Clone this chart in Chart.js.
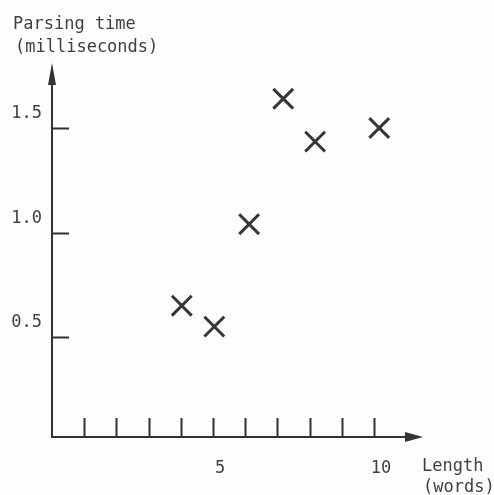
<!DOCTYPE html>
<html>
<head>
<meta charset="utf-8">
<script src="https://cdn.jsdelivr.net/npm/chart.js@4/dist/chart.umd.min.js"></script>
<style>
  html, body { margin: 0; padding: 0; background: #fdfdfd; }
  #wrap { width: 494px; height: 495px; position: relative; }
</style>
</head>
<body>
<div id="wrap"><canvas id="chart"></canvas></div>
<script>
/* Parsing time vs sentence length - scatter of crosses */

const LENGTH_WORDS = [4.03, 5.04, 6.12, 7.18, 8.17, 10.16];
const PARSE_MS     = [0.65, 0.55, 1.04, 1.64, 1.435, 1.50];
const X_TICKS = [1, 2, 3, 4, 5, 6, 7, 8, 9, 10];
const X_LABELED = [5, 10];
const Y_TICKS = [0.5, 1.0, 1.5];
const Y_TITLE = ['Parsing time', '(milliseconds)'];
const X_TITLE = ['Length', '(words)'];

const INK  = '#333333';
const TEXT = '#404040';
const MONO = '"DejaVu Sans Mono", "Liberation Mono", monospace';

// axes with arrows, inward tick marks and the two free-standing labels
const axisDecor = {
  id: 'axisDecor',
  afterDraw(chart) {
    const { ctx, chartArea: a } = chart;
    const xs = chart.scales.x, ys = chart.scales.y;
    ctx.save();
    ctx.strokeStyle = INK;
    ctx.fillStyle = INK;
    ctx.lineWidth = 2;
    ctx.lineCap = 'butt';

    // axis lines
    ctx.beginPath();
    ctx.moveTo(a.left, a.top + 10);
    ctx.lineTo(a.left, a.bottom);
    ctx.lineTo(a.right - 10, a.bottom);
    ctx.stroke();

    // arrow heads
    ctx.beginPath();
    ctx.moveTo(a.left, a.top);
    ctx.lineTo(a.left - 4, a.top + 22);
    ctx.lineTo(a.left + 4, a.top + 22);
    ctx.closePath();
    ctx.fill();
    ctx.beginPath();
    ctx.moveTo(a.right, a.bottom);
    ctx.lineTo(a.right - 18, a.bottom - 5);
    ctx.lineTo(a.right - 18, a.bottom + 5);
    ctx.closePath();
    ctx.fill();

    // tick marks drawn inside the axes
    ctx.beginPath();
    X_TICKS.forEach(v => {
      const px = Math.round(xs.getPixelForValue(v)) + 0.5;
      ctx.moveTo(px, a.bottom);
      ctx.lineTo(px, a.bottom - 19);
    });
    Y_TICKS.forEach(v => {
      const py = Math.round(ys.getPixelForValue(v)) + 0.5;
      ctx.moveTo(a.left, py);
      ctx.lineTo(a.left + 17, py);
    });
    ctx.stroke();

    // labels
    ctx.fillStyle = TEXT;
    ctx.font = '17px ' + MONO;
    ctx.textBaseline = 'alphabetic';
    ctx.textAlign = 'left';
    ctx.fillText(Y_TITLE[0], 13, 29);
    ctx.fillText(Y_TITLE[1], 15, 52);
    ctx.fillText(X_TITLE[0], 422, 471);
    ctx.fillText(X_TITLE[1], 423, 492);
    ctx.restore();
  }
};

new Chart(document.getElementById('chart'), {
  type: 'scatter',
  data: {
    datasets: [{
      data: LENGTH_WORDS.map((x, i) => ({ x, y: PARSE_MS[i] })),
      pointStyle: 'crossRot',
      pointRadius: 14,
      pointHoverRadius: 14,
      borderColor: '#363636',
      borderWidth: 3,
      backgroundColor: '#363636',
      clip: false,
    }]
  },
  options: {
    responsive: true,
    maintainAspectRatio: false,
    animation: false,
    layout: { padding: { top: 63, right: 71, left: 0, bottom: 0 } },
    plugins: { legend: { display: false }, tooltip: { enabled: false }, title: { display: false } },
    scales: {
      x: {
        type: 'linear',
        min: 0, max: 11.52,
        grid: { display: false, drawTicks: false },
        border: { display: false },
        afterBuildTicks: (s) => { s.ticks = X_TICKS.map(v => ({ value: v })); },
        afterFit: (s) => { s.height = 58; },
        ticks: {
          autoSkip: false,
          padding: 21,
          labelOffset: 7,
          color: TEXT,
          font: { family: MONO, size: 17 },
          callback: (v) => X_LABELED.includes(v) ? String(v) : '',
        },
      },
      y: {
        type: 'linear',
        min: 0.022, max: 1.811,
        grid: { display: false, drawTicks: false },
        border: { display: false },
        afterBuildTicks: (s) => { s.ticks = Y_TICKS.map(v => ({ value: v })); },
        afterFit: (s) => { s.width = 52; },
        ticks: {
          autoSkip: false,
          padding: 10,
          labelOffset: -14,
          color: TEXT,
          font: { family: MONO, size: 17 },
          callback: (v) => v.toFixed(1),
        },
      },
    },
  },
  plugins: [axisDecor],
});
</script>
</body>
</html>
